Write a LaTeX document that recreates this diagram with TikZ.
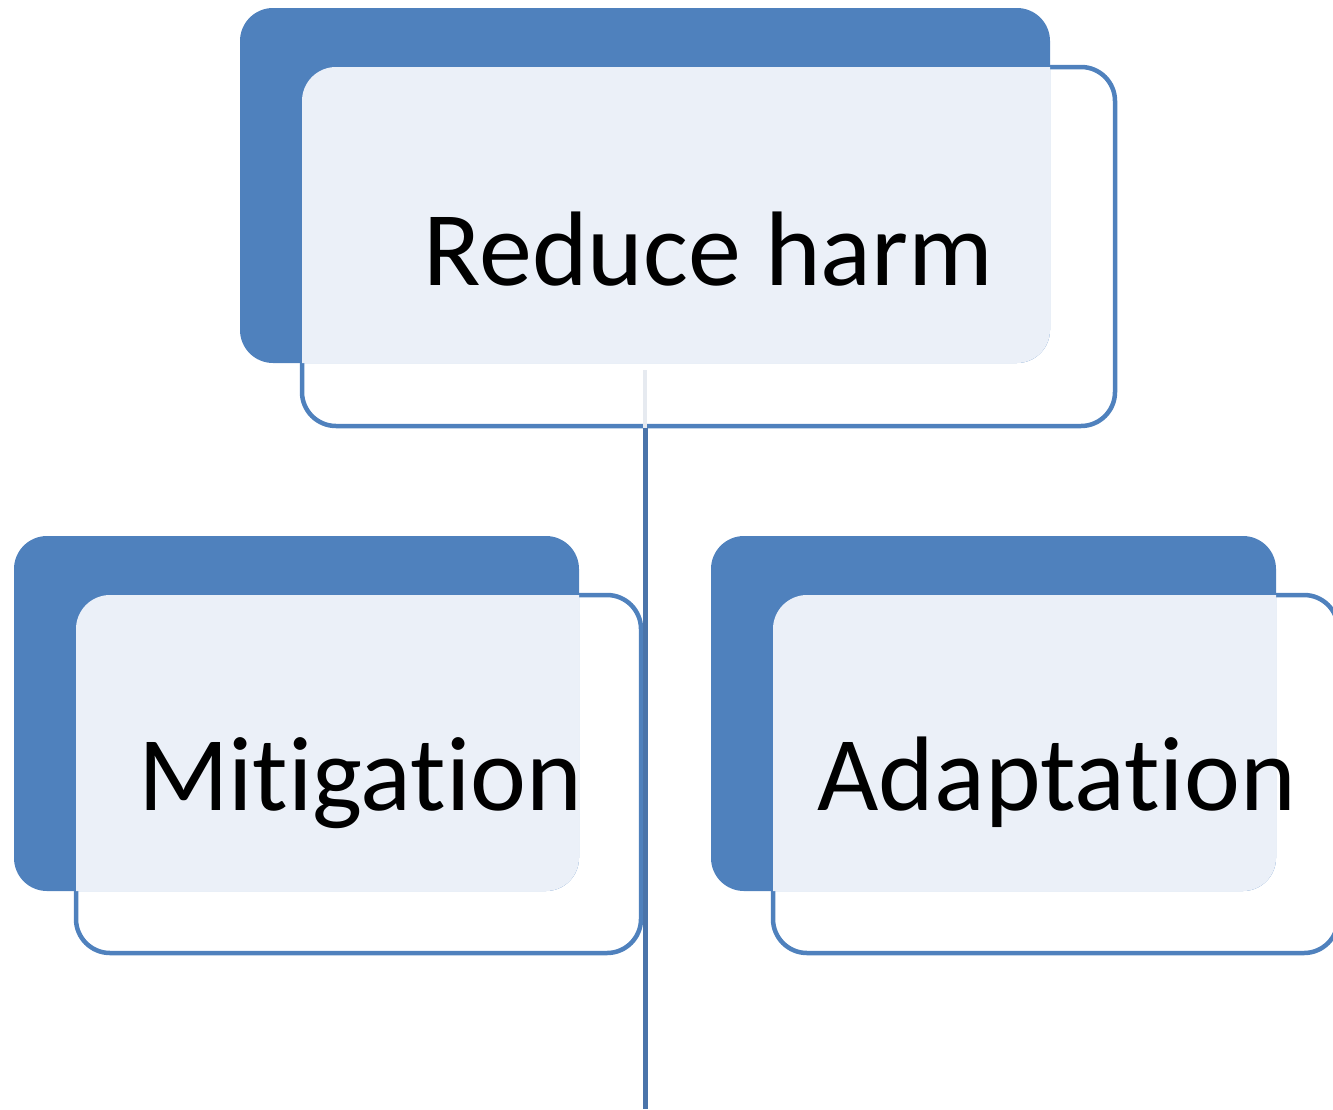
\documentclass[tikz,border=0pt]{standalone}
\usepackage{fontspec}
\setmainfont{Carlito}[Ligatures={NoCommon,NoRare,NoDiscretionary}]
\definecolor{dk}{HTML}{4F81BD}
\definecolor{lt}{HTML}{EBF0F8}
\definecolor{ln}{HTML}{4A74AA}
\definecolor{faint}{HTML}{E6EAF0}
\tikzset{
  backbox/.style={rectangle, fill=dk, rounded corners=33pt, inner sep=0pt},
  frontbox/.style={rectangle, draw=dk, line width=4.5pt, rounded corners=34pt, inner sep=0pt},
  label/.style={anchor=base, inner sep=0pt, font=\fontsize{106}{120}\selectfont},
  conn/.style={draw=ln, line width=5pt}
}
\begin{document}
\begin{tikzpicture}[x=1pt,y=-1pt]
\useasboundingbox (0,0) rectangle (1333,1109);
% front box outlines (under the back boxes)
\node[frontbox, minimum width=813pt, minimum height=359pt] (top) at (708.5,246.5) {};
\node[frontbox, minimum width=565pt, minimum height=358pt] (mit) at (358.5,774) {};
\node[frontbox, minimum width=565pt, minimum height=358pt] (ada) at (1055.5,774) {};
% back boxes
\node[backbox, minimum width=810pt, minimum height=355pt] (topb) at (645,185.5) {};
\node[backbox, minimum width=565pt, minimum height=355pt] (mitb) at (296.5,713.5) {};
\node[backbox, minimum width=565pt, minimum height=355pt] (adab) at (993.5,713.5) {};
% light overlaps
\begin{scope}
  \clip[rounded corners=33pt] (240,8) rectangle (1050,363);
  \fill[lt, rounded corners=34pt] (302,67) rectangle (1115,426);
\end{scope}
\begin{scope}
  \clip[rounded corners=33pt] (14,536) rectangle (579,891);
  \fill[lt, rounded corners=34pt] (76,595) rectangle (641,953);
\end{scope}
\begin{scope}
  \clip[rounded corners=33pt] (711,536) rectangle (1276,891);
  \fill[lt, rounded corners=34pt] (773,595) rectangle (1338,953);
\end{scope}
% texts
\node[label] (toptxt) at (708.5,285) {Reduce harm};
\node[label] (mittxt) at (360,810) {Mitigation};
\node[label] (adatxt) at (1056.5,810) {Adaptation};
% connector
\coordinate (cstart) at (645,370);
\coordinate (cend) at (645,1109);
\draw[draw=faint, line width=4.5pt] (cstart) -- (cstart |- top.south);
\draw[conn] (cend |- top.south) -- (cend);
\end{tikzpicture}
\end{document}
